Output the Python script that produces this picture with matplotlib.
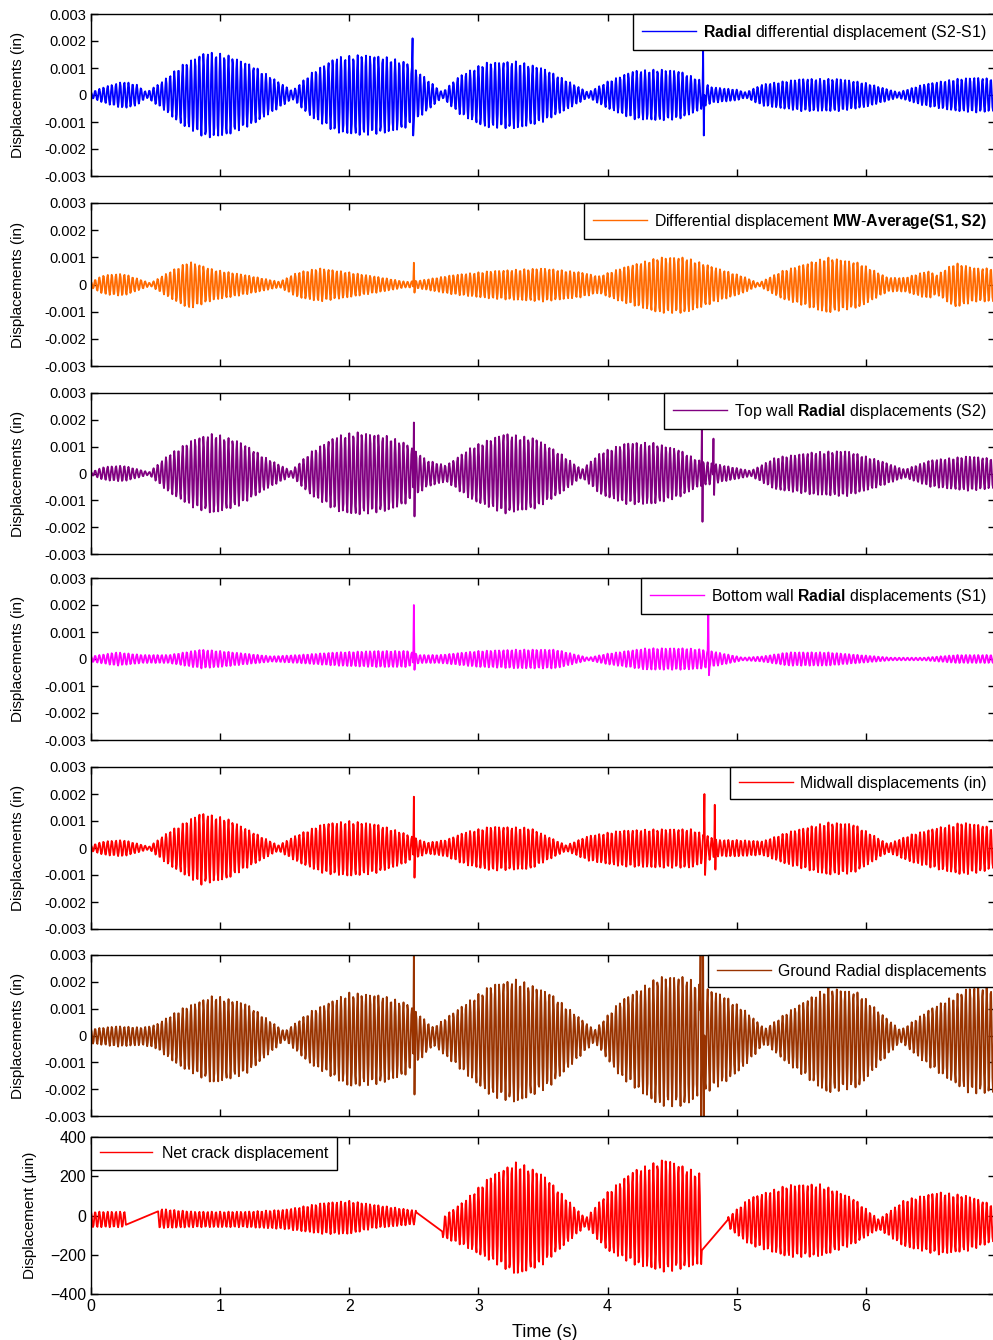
import numpy as np
import matplotlib.pyplot as plt

plt.rcParams['font.family'] = ['Liberation Sans', 'DejaVu Sans']
plt.rcParams['mathtext.fontset'] = 'custom'
plt.rcParams['mathtext.rm'] = 'Liberation Sans'
plt.rcParams['mathtext.bf'] = 'Liberation Sans:bold'

# carrier of the shaking table record (Hz) and sample rate
F_CARRIER = 31.0
FS = 200.0

# envelope knots: time (s), amplitude (x 0.001 in)
s21_t = [0, 0.1, 0.25, 0.35, 0.43, 0.55, 0.7, 0.89, 1.05, 1.25, 1.45, 1.56, 1.7, 1.9, 2.1, 2.3, 2.45, 2.6,
         2.72, 2.85, 3.05, 3.3, 3.5, 3.7, 3.85, 4.0, 4.2, 4.4, 4.55, 4.7, 4.8, 5.0, 5.07, 5.2, 5.5, 5.8,
         6.0, 6.25, 6.45, 6.7, 6.85, 7.0]
s21_a = [0.1, 0.3, 0.5, 0.4, 0.1, 0.5, 1.1, 1.6, 1.5, 1.1, 0.5, 0.15, 0.8, 1.4, 1.5, 1.4, 1.2, 0.6,
         0.1, 0.7, 1.2, 1.25, 1.0, 0.5, 0.1, 0.5, 0.9, 0.95, 0.9, 0.6, 0.3, 0.2, 0.1, 0.4, 0.6, 0.6,
         0.45, 0.1, 0.4, 0.6, 0.65, 0.6]
s21_spikes = [(2.49, 2.1, -1.5), (4.74, 1.7, -1.5)]

mw_t = [0, 0.1, 0.25, 0.46, 0.6, 0.76, 0.95, 1.2, 1.46, 1.6, 1.77, 2.0, 2.2, 2.44, 2.55, 2.8, 3.1, 3.5,
        3.8, 3.93, 4.1, 4.4, 4.6, 4.85, 5.05, 5.17, 5.35, 5.7, 5.95, 6.17, 6.3, 6.48, 6.55, 6.69, 6.85, 7.0]
mw_a = [0.1, 0.35, 0.4, 0.05, 0.45, 0.85, 0.55, 0.35, 0.1, 0.45, 0.6, 0.45, 0.3, 0.1, 0.15, 0.35, 0.5, 0.6,
        0.45, 0.3, 0.6, 1.0, 1.0, 0.6, 0.3, 0.05, 0.5, 1.0, 0.8, 0.25, 0.25, 0.5, 0.35, 0.8, 0.6, 0.6]
mw_spikes = [(2.5, 0.8, -0.3)]

s2_t = [0, 0.1, 0.25, 0.45, 0.6, 0.8, 0.95, 1.15, 1.35, 1.55, 1.7, 1.9, 2.05, 2.3, 2.45, 2.6, 2.75, 2.95,
        3.2, 3.45, 3.65, 3.8, 3.95, 4.15, 4.35, 4.55, 4.7, 4.9, 5.11, 5.3, 5.6, 5.85, 6.1, 6.3, 6.5, 6.8, 7.0]
s2_a = [0.05, 0.25, 0.3, 0.05, 0.7, 1.3, 1.5, 1.2, 0.6, 0.1, 0.8, 1.4, 1.55, 1.4, 1.1, 0.5, 0.3, 1.0,
        1.5, 1.3, 0.7, 0.15, 0.8, 1.15, 1.15, 0.9, 0.5, 0.3, 0.1, 0.6, 0.8, 0.85, 0.5, 0.15, 0.5, 0.65, 0.55]
s2_spikes = [(2.5, 1.9, -1.6), (4.73, 1.7, -1.8), (4.82, 1.3, -0.8)]

s1_t = [0, 0.2, 0.4, 0.6, 0.85, 1.0, 1.2, 1.4, 1.6, 1.9, 2.2, 2.45, 2.55, 2.7, 3.0, 3.3, 3.6, 3.85,
        4.0, 4.3, 4.6, 4.75, 4.9, 5.05, 5.2, 5.4, 5.7, 5.95, 6.2, 6.45, 6.7, 7.0]
s1_a = [0.1, 0.25, 0.15, 0.15, 0.35, 0.3, 0.2, 0.1, 0.15, 0.25, 0.3, 0.3, 0.15, 0.15, 0.3, 0.35, 0.35, 0.05,
        0.2, 0.4, 0.4, 0.35, 0.2, 0.05, 0.1, 0.25, 0.25, 0.15, 0.05, 0.05, 0.15, 0.15]
s1_spikes = [(2.5, 2.0, -0.4), (4.78, 1.7, -0.6)]

mid_t = [0, 0.1, 0.25, 0.45, 0.6, 0.85, 1.05, 1.25, 1.45, 1.6, 1.8, 2.0, 2.2, 2.4, 2.6, 2.75, 2.9, 3.1,
         3.4, 3.68, 3.85, 4.1, 4.4, 4.65, 4.85, 5.0, 5.2, 5.4, 5.7, 5.9, 6.05, 6.17, 6.35, 6.55, 6.75, 6.9, 7.0]
mid_a = [0.1, 0.25, 0.3, 0.05, 0.6, 1.3, 1.1, 0.6, 0.1, 0.5, 0.9, 1.0, 0.9, 0.6, 0.2, 0.3, 0.6, 0.8,
         0.75, 0.1, 0.45, 0.65, 0.7, 0.7, 0.3, 0.3, 0.25, 0.6, 0.95, 0.9, 0.5, 0.15, 0.5, 0.75, 0.95, 0.85, 0.7]
mid_spikes = [(2.5, 1.9, -1.1), (4.75, 2.0, -1.0), (4.83, 1.6, -0.8)]

gr_t = [0, 0.2, 0.4, 0.5, 0.7, 0.95, 1.2, 1.5, 1.7, 2.0, 2.25, 2.45, 2.65, 2.9, 3.1, 3.3, 3.55, 3.75,
        3.9, 4.1, 4.4, 4.6, 4.75, 4.9, 5.05, 5.22, 5.4, 5.7, 5.95, 6.1, 6.27, 6.5, 6.8, 7.0]
gr_a = [0.25, 0.35, 0.3, 0.4, 1.0, 1.5, 1.2, 0.15, 0.9, 1.6, 1.5, 1.2, 0.3, 1.2, 1.9, 2.1, 1.6, 0.8,
        0.2, 1.3, 2.2, 2.2, 1.8, 1.5, 1.0, 0.25, 0.9, 1.8, 1.6, 0.9, 0.2, 1.0, 1.8, 1.8]
gr_spikes = [(2.5, 3.2, -2.2), (4.72, 3.2, -3.2), (4.74, 3.2, -3.0)]

# net crack displacement (micro-in): envelope, mean level, and missing-data gaps
crack_t = [0, 0.27, 0.52, 0.8, 1.2, 1.5, 1.8, 2.0, 2.2, 2.52, 2.72, 2.9, 3.1, 3.3, 3.5, 3.83, 4.0, 4.2,
           4.45, 4.73, 4.93, 5.1, 5.4, 5.65, 5.9, 6.1, 6.3, 6.56, 6.8, 7.0]
crack_a = [40, 40, 50, 40, 40, 50, 80, 85, 60, 35, 50, 120, 220, 290, 230, 20, 150, 240,
           290, 230, 25, 120, 185, 185, 120, 25, 120, 160, 140, 90]
crack_mid = [-20, -20, -15, -20, -20, -20, -15, -10, -5, -10, -60, -40, -15, -15, -20, -35, -30, -10,
             0, -20, -35, -30, -28, -25, -30, -45, -40, -40, -40, -40]
crack_gaps = [(0.27, 0.52), (2.52, 2.72), (4.73, 4.93)]

labels = [r'$\mathbf{Radial}$ differential displacement (S2-S1)',
          r'Differential displacement $\mathbf{MW}$-$\mathbf{Average(S1,S2)}$',
          r'Top wall $\mathbf{Radial}$ displacements (S2)',
          r'Bottom wall $\mathbf{Radial}$ displacements (S1)',
          'Midwall displacements (in)',
          'Ground Radial displacements',
          'Net crack displacement']
colors = ['#0000ff', '#ff6a00', '#800080', '#ff00ff', '#ff0000', '#993300', '#ff0000']
neg_scale = [1.0, 1.05, 1.0, 1.0, 1.05, 1.2, 1.0]

y_ticks = [-0.003, -0.002, -0.001, 0, 0.001, 0.002, 0.003]
y_tick_labels = ['-0.003', '-0.002', '-0.001', '0', '0.001', '0.002', '0.003']
crack_ticks = [-400, -200, 0, 200, 400]
x_ticks = [0, 1, 2, 3, 4, 5, 6]

t = np.arange(0, 7.0 + 1e-9, 1 / FS)
carrier = np.cos(2 * np.pi * F_CARRIER * t)


def build(kt, ka, spikes, neg):
    env = np.interp(t, kt, ka) * 1e-3
    y = env * np.where(carrier > 0, carrier, carrier * neg)
    for ts, hi, lo in spikes:
        i = np.searchsorted(t, ts)
        y[i] = hi * 1e-3
        y[i + 1] = lo * 1e-3
    return y


series = [
    build(s21_t, s21_a, s21_spikes, neg_scale[0]),
    build(mw_t, mw_a, mw_spikes, neg_scale[1]),
    build(s2_t, s2_a, s2_spikes, neg_scale[2]),
    build(s1_t, s1_a, s1_spikes, neg_scale[3]),
    build(mid_t, mid_a, mid_spikes, neg_scale[4]),
    build(gr_t, gr_a, gr_spikes, neg_scale[5]),
]

crack = np.interp(t, crack_t, crack_mid) + np.interp(t, crack_t, crack_a) * carrier
keep = np.ones_like(t, dtype=bool)
for g0, g1 in crack_gaps:
    keep &= ~((t > g0) & (t < g1))

W, H = 993, 1340
fig = plt.figure(figsize=(W / 100, H / 100), dpi=100)

# panel extents in pixels (top, bottom)
panel_px = [(14, 176), (203, 366), (393, 554), (578, 740), (767, 929), (955, 1116), (1137, 1294)]
left_px, right_px = 91, 995

axes = []
for top, bot in panel_px:
    ax = fig.add_axes([left_px / W, 1 - bot / H, (right_px - left_px) / W, (bot - top) / H])
    axes.append(ax)

for i, ax in enumerate(axes):
    if i < 6:
        ax.plot(t, series[i], color=colors[i], lw=1.3, label=labels[i])
        ax.set_ylim(-0.003, 0.003)
        ax.set_yticks(y_ticks)
        ax.set_yticklabels(y_tick_labels)
        ax.set_ylabel('Displacements (in)', fontsize=11)
        ax.yaxis.set_label_coords(-0.073, 0.5)
        ax.tick_params(labelsize=10.5)
        leg = ax.legend(loc='upper right', fontsize=11.4, handlelength=3.4, handletextpad=0.45,
                        borderpad=0.55, borderaxespad=0, fancybox=False, framealpha=1)
    else:
        ax.plot(t[keep], crack[keep], color=colors[i], lw=1.3, label=labels[i])
        ax.set_ylim(-400, 400)
        ax.set_yticks(crack_ticks)
        ax.set_ylabel('Displacement (\u00b5in)', fontsize=11)
        ax.yaxis.set_label_coords(-0.06, 0.5)
        ax.tick_params(labelsize=11.5)
        ax.set_xlabel('Time (s)', fontsize=13)
        ax.xaxis.set_label_coords(0.502, -0.19)
        leg = ax.legend(loc='upper left', fontsize=11.5, handlelength=3.3, handletextpad=0.6,
                        borderpad=0.55, borderaxespad=0, fancybox=False, framealpha=1)
    leg.get_frame().set_edgecolor('black')
    leg.get_frame().set_linewidth(1.0)
    for h in leg.get_lines():
        h.set_linewidth(1.0)
    ax.set_xlim(0, 7)
    ax.set_xticks(x_ticks)
    if i < 6:
        ax.set_xticklabels([])
    ax.tick_params(direction='in', top=True, right=True, length=5, width=1)
    for s in ax.spines.values():
        s.set_linewidth(1.0)

fig.savefig('out.png', dpi=100)
